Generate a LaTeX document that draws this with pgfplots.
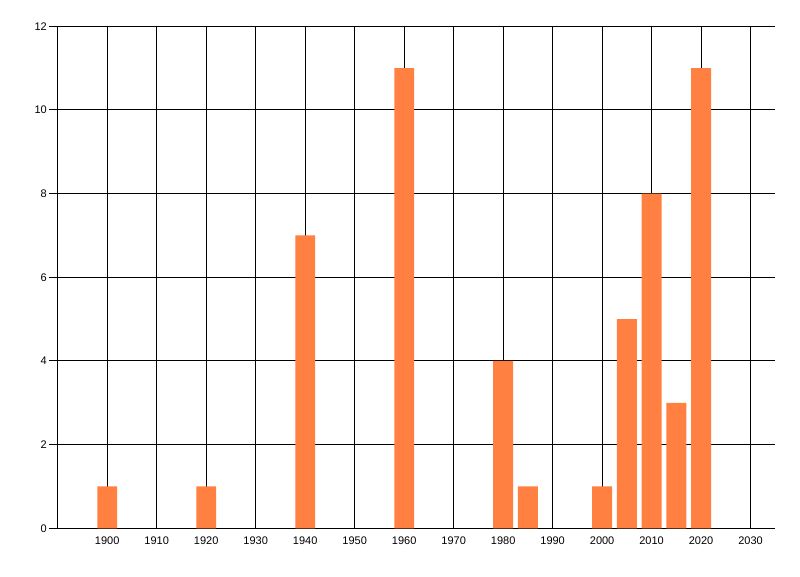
\documentclass[border=0pt]{standalone}
\usepackage{pgfplots}
\pgfplotsset{compat=1.18}
\usepackage{fontspec}
\setmainfont{Liberation Sans}
\definecolor{barorange}{RGB}{255,128,64}
\begin{document}
\begin{tikzpicture}
\begin{axis}[
  at={(43.3pt,35.8pt)}, anchor=south west,
  scale only axis,
  width=538.2pt, height=376.5pt,
  xmin=1890, xmax=2035,
  ymin=0, ymax=12,
  axis x line*=bottom, axis y line*=left,
  axis line style={black, line width=0.75pt},
  xtick={1900,1910,...,2030},
  ytick={0,2,...,12},
  xticklabel={\pgfmathprintnumber[1000 sep={}]{\tick}},
  /pgf/number format/assume math mode=true,
  /pgf/number format/1000 sep={},
  grid=major,
  major grid style={black, line width=0.75pt},
  tick align=outside,
  x tick style={draw=none},
  y tick style={black, line width=0.75pt},
  major tick length=6.5pt,
  ticklabel style={font=\fontsize{8.25}{10}\selectfont, text=black},
  xticklabel style={anchor=north, inner sep=0pt, yshift=0pt},
  yticklabel style={anchor=east, inner sep=0pt, xshift=-1.5pt},
  ybar, bar width=4, bar shift=0pt,
]
\addplot[fill=barorange, draw=none] coordinates {
 (1900,1) (1920,1) (1940,7) (1960,11) (1980,4) (1985,1)
 (2000,1) (2005,5) (2010,8) (2015,3) (2020,11)
};
\end{axis}
\pgfresetboundingbox
\useasboundingbox (0,0) rectangle (600pt,432pt);
\end{tikzpicture}
\end{document}
